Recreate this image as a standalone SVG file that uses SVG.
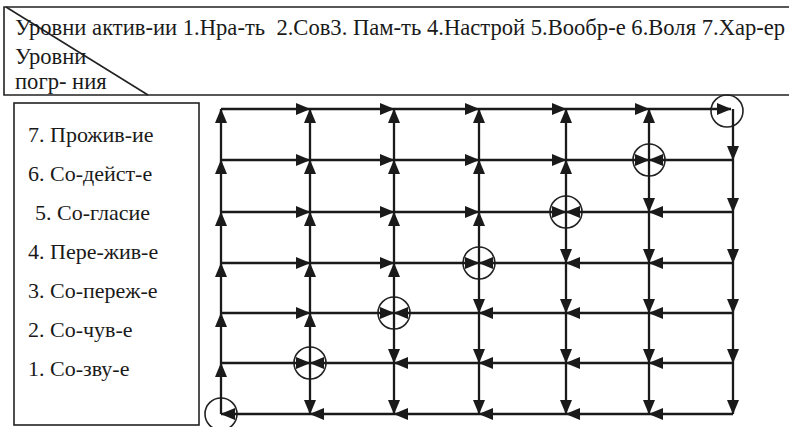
<svg xmlns="http://www.w3.org/2000/svg" width="789" height="427" viewBox="0 0 789 427">
<style>
.t{font-family:"Liberation Serif","Times New Roman",serif;font-size:22.6px;fill:#1a1a1a}
.l{font-family:"Liberation Serif","Times New Roman",serif;font-size:22px;fill:#1a1a1a}
.frame{fill:none;stroke:#222;stroke-width:1.6}
.e{stroke:#1a1a1a;stroke-width:2.3;marker-end:url(#ah)}
.c{fill:none;stroke:#222;stroke-width:1.6}
</style>
<defs>
<marker id="ah" markerUnits="userSpaceOnUse" markerWidth="15" markerHeight="13" refX="14" refY="6" orient="auto">
<path d="M0,0 L14.5,6 L0,12 z" fill="#1a1a1a"/>
</marker>
</defs>
<rect width="789" height="427" fill="#fff"/>
<g id="header">
<path class="frame" d="M789,7 H4 V95 H789"/>
<line class="frame" x1="6" y1="7" x2="148" y2="95"/>
<text class="t" x="15" y="35">Уровни актив-ии 1.Нра-ть &#160;2.Сов3. Пам-ть 4.Настрой 5.Вообр-е 6.Воля 7.Хар-ер</text>
<text class="t" x="15" y="63.5">Уровни</text>
<text class="t" x="15" y="89">погр- ния</text>
</g>
<g id="levels">
<rect class="frame" x="14" y="103" width="185" height="322"/>
<text class="l" x="28" y="142">7. Прожив-ие</text>
<text class="l" x="28" y="181">6. Со-дейст-е</text>
<text class="l" x="35" y="220">5. Со-гласие</text>
<text class="l" x="28" y="259">4. Пере-жив-е</text>
<text class="l" x="28" y="298">3. Со-переж-е</text>
<text class="l" x="28" y="337">2. Со-чув-е</text>
<text class="l" x="28" y="376">1. Со-зву-е</text>
</g>
<g id="nodes">
<circle id="n0" class="c" cx="221" cy="414" r="16"/>
<circle id="n1" class="c" cx="310" cy="363" r="16"/>
<circle id="n2" class="c" cx="394" cy="313" r="16"/>
<circle id="n3" class="c" cx="479" cy="263" r="16"/>
<circle id="n4" class="c" cx="566" cy="212" r="16"/>
<circle id="n5" class="c" cx="649" cy="160" r="16"/>
<circle id="n6" class="c" cx="727" cy="111" r="16"/>
</g>
<g id="connectors">
<line class="e" x1="310" y1="414" x2="221" y2="414"/>
<line class="e" x1="394" y1="414" x2="310" y2="414"/>
<line class="e" x1="479" y1="414" x2="394" y2="414"/>
<line class="e" x1="566" y1="414" x2="479" y2="414"/>
<line class="e" x1="649" y1="414" x2="566" y2="414"/>
<line class="e" x1="733" y1="414" x2="649" y2="414"/>
<line class="e" x1="221" y1="363" x2="310" y2="363"/>
<line class="e" x1="394" y1="363" x2="310" y2="363"/>
<line class="e" x1="479" y1="363" x2="394" y2="363"/>
<line class="e" x1="566" y1="363" x2="479" y2="363"/>
<line class="e" x1="649" y1="363" x2="566" y2="363"/>
<line class="e" x1="733" y1="363" x2="649" y2="363"/>
<line class="e" x1="221" y1="313" x2="310" y2="313"/>
<line class="e" x1="310" y1="313" x2="394" y2="313"/>
<line class="e" x1="479" y1="313" x2="394" y2="313"/>
<line class="e" x1="566" y1="313" x2="479" y2="313"/>
<line class="e" x1="649" y1="313" x2="566" y2="313"/>
<line class="e" x1="733" y1="313" x2="649" y2="313"/>
<line class="e" x1="221" y1="263" x2="310" y2="263"/>
<line class="e" x1="310" y1="263" x2="394" y2="263"/>
<line class="e" x1="394" y1="263" x2="479" y2="263"/>
<line class="e" x1="566" y1="263" x2="479" y2="263"/>
<line class="e" x1="649" y1="263" x2="566" y2="263"/>
<line class="e" x1="733" y1="263" x2="649" y2="263"/>
<line class="e" x1="221" y1="212" x2="310" y2="212"/>
<line class="e" x1="310" y1="212" x2="394" y2="212"/>
<line class="e" x1="394" y1="212" x2="479" y2="212"/>
<line class="e" x1="479" y1="212" x2="566" y2="212"/>
<line class="e" x1="649" y1="212" x2="566" y2="212"/>
<line class="e" x1="733" y1="212" x2="649" y2="212"/>
<line class="e" x1="221" y1="160" x2="310" y2="160"/>
<line class="e" x1="310" y1="160" x2="394" y2="160"/>
<line class="e" x1="394" y1="160" x2="479" y2="160"/>
<line class="e" x1="479" y1="160" x2="566" y2="160"/>
<line class="e" x1="566" y1="160" x2="649" y2="160"/>
<line class="e" x1="733" y1="160" x2="649" y2="160"/>
<line class="e" x1="221" y1="109" x2="310" y2="109"/>
<line class="e" x1="310" y1="109" x2="394" y2="109"/>
<line class="e" x1="394" y1="109" x2="479" y2="109"/>
<line class="e" x1="479" y1="109" x2="566" y2="109"/>
<line class="e" x1="566" y1="109" x2="649" y2="109"/>
<line class="e" x1="649" y1="109" x2="731" y2="109"/>
<line class="e" x1="221" y1="414" x2="221" y2="363"/>
<line class="e" x1="221" y1="363" x2="221" y2="313"/>
<line class="e" x1="221" y1="313" x2="221" y2="263"/>
<line class="e" x1="221" y1="263" x2="221" y2="212"/>
<line class="e" x1="221" y1="212" x2="221" y2="160"/>
<line class="e" x1="221" y1="160" x2="221" y2="109"/>
<line class="e" x1="310" y1="363" x2="310" y2="414"/>
<line class="e" x1="310" y1="363" x2="310" y2="313"/>
<line class="e" x1="310" y1="313" x2="310" y2="263"/>
<line class="e" x1="310" y1="263" x2="310" y2="212"/>
<line class="e" x1="310" y1="212" x2="310" y2="160"/>
<line class="e" x1="310" y1="160" x2="310" y2="109"/>
<line class="e" x1="394" y1="363" x2="394" y2="414"/>
<line class="e" x1="394" y1="313" x2="394" y2="363"/>
<line class="e" x1="394" y1="313" x2="394" y2="263"/>
<line class="e" x1="394" y1="263" x2="394" y2="212"/>
<line class="e" x1="394" y1="212" x2="394" y2="160"/>
<line class="e" x1="394" y1="160" x2="394" y2="109"/>
<line class="e" x1="479" y1="363" x2="479" y2="414"/>
<line class="e" x1="479" y1="313" x2="479" y2="363"/>
<line class="e" x1="479" y1="263" x2="479" y2="313"/>
<line class="e" x1="479" y1="263" x2="479" y2="212"/>
<line class="e" x1="479" y1="212" x2="479" y2="160"/>
<line class="e" x1="479" y1="160" x2="479" y2="109"/>
<line class="e" x1="566" y1="363" x2="566" y2="414"/>
<line class="e" x1="566" y1="313" x2="566" y2="363"/>
<line class="e" x1="566" y1="263" x2="566" y2="313"/>
<line class="e" x1="566" y1="212" x2="566" y2="263"/>
<line class="e" x1="566" y1="212" x2="566" y2="160"/>
<line class="e" x1="566" y1="160" x2="566" y2="109"/>
<line class="e" x1="649" y1="363" x2="649" y2="414"/>
<line class="e" x1="649" y1="313" x2="649" y2="363"/>
<line class="e" x1="649" y1="263" x2="649" y2="313"/>
<line class="e" x1="649" y1="212" x2="649" y2="263"/>
<line class="e" x1="649" y1="160" x2="649" y2="212"/>
<line class="e" x1="649" y1="160" x2="649" y2="109"/>
<line class="e" x1="733" y1="109" x2="733" y2="160"/>
<line class="e" x1="733" y1="160" x2="733" y2="212"/>
<line class="e" x1="733" y1="212" x2="733" y2="263"/>
<line class="e" x1="733" y1="263" x2="733" y2="313"/>
<line class="e" x1="733" y1="313" x2="733" y2="363"/>
<line class="e" x1="733" y1="363" x2="733" y2="414"/>
</g>
</svg>
